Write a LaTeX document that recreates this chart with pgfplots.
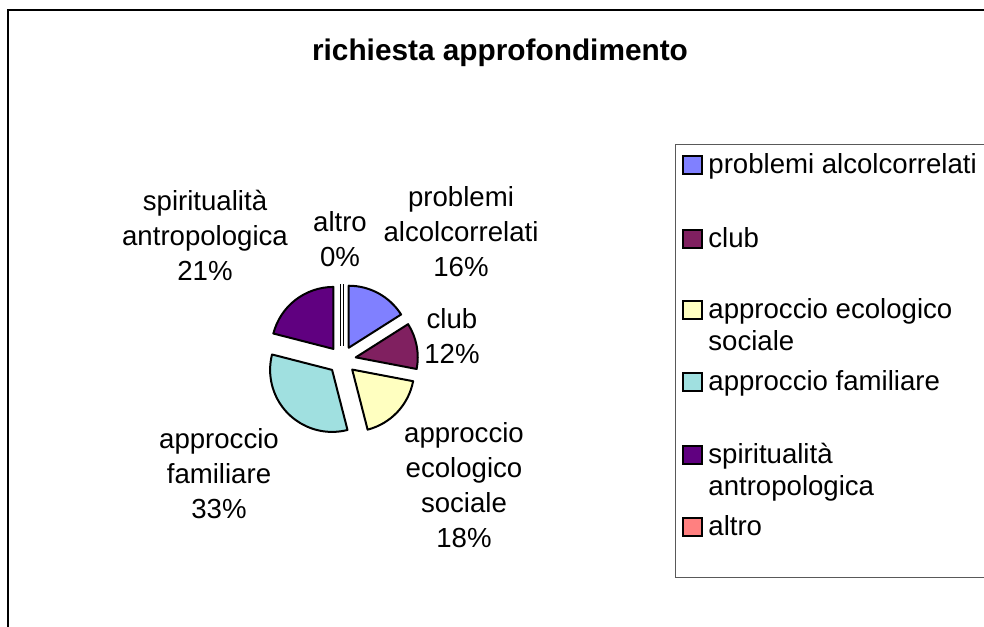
\documentclass[border=0pt]{standalone}
\usepackage{fontspec}
\setmainfont{Liberation Sans}
\usepackage{pgfplots}
\usepackage{pgfplotstable}
\pgfplotsset{compat=1.18}

\definecolor{sliceA}{HTML}{8080FF}
\definecolor{sliceB}{HTML}{802060}
\definecolor{sliceC}{HTML}{FFFFC0}
\definecolor{sliceD}{HTML}{A0E0E0}
\definecolor{sliceE}{HTML}{600080}
\definecolor{sliceF}{HTML}{FF8080}

% shares in percent, clockwise from 12 o'clock
\pgfplotstableread[col sep=comma]{
share,colour
16,sliceA
12,sliceB
18,sliceC
33,sliceD
21,sliceE
0,sliceF
}\piedata

\begin{document}
\begin{tikzpicture}
  \path[use as bounding box] (0,0) rectangle (492pt,313pt);
  \begin{axis}[scale only axis, width=492pt, height=313pt, hide axis,
      xmin=0, xmax=984, ymin=0, ymax=626, y dir=reverse, clip=false]
    % chart frame (right and bottom edge fall outside the picture)
    \draw[line width=0.7pt] (axis cs:8,700) -- (axis cs:8,10) -- (axis cs:1100,10);
    \coordinate (pc) at (axis cs:342,360);

    \node[font=\fontsize{14.9}{18}\selectfont\bfseries, anchor=base] at (axis cs:500,60) {richiesta approfondimento};

    % data labels (y = baseline of the last line)
    \begin{scope}[every node/.style={font=\fontsize{13.8}{17.5}\selectfont, align=center, anchor=base, inner sep=0pt}]
      \node at (axis cs:461,276) {problemi\\alcolcorrelati\\16\%};
      \node at (axis cs:452,363) {club\\12\%};
      \node at (axis cs:464,547) {approccio\\ecologico\\sociale\\18\%};
      \node at (axis cs:219,518) {approccio\\familiare\\33\%};
      \node at (axis cs:205,280) {spiritualità\\antropologica\\21\%};
      \node at (axis cs:340,266) {altro\\0\%};
    \end{scope}

    % legend
    \draw[black!65, line width=0.5pt] (axis cs:675,144) rectangle (axis cs:1100,577);
    \begin{scope}[every node/.style={font=\fontsize{13.8}{16}\selectfont, align=left, anchor=base west, inner sep=0pt}]
      \node at (axis cs:708,173) {problemi alcolcorrelati};
      \node at (axis cs:708,247) {club};
      \node at (axis cs:708,350) {approccio ecologico\\sociale};
      \node at (axis cs:708,390) {approccio familiare};
      \node at (axis cs:708,495) {spiritualità\\antropologica};
      \node at (axis cs:708,535) {altro};
    \end{scope}
    \begin{scope}[line width=0.8pt]
      \filldraw[fill=sliceA] (axis cs:683,174) rectangle (axis cs:702,156);
      \filldraw[fill=sliceB] (axis cs:683,248) rectangle (axis cs:702,230);
      \filldraw[fill=sliceC] (axis cs:683,319) rectangle (axis cs:702,301);
      \filldraw[fill=sliceD] (axis cs:683,391) rectangle (axis cs:702,373);
      \filldraw[fill=sliceE] (axis cs:683,464) rectangle (axis cs:702,446);
      \filldraw[fill=sliceF] (axis cs:683,536) rectangle (axis cs:702,518);
    \end{scope}
  \end{axis}

  % exploded pie slices, angles from the table
  \pgfplotstablegetrowsof{\piedata}
  \pgfmathtruncatemacro\lastrow{\pgfplotsretval-1}
  \xdef\cum{0}
  \foreach \i in {0,...,\lastrow}{
    \pgfplotstablegetelem{\i}{share}\of\piedata \let\val\pgfplotsretval
    \pgfplotstablegetelem{\i}{colour}\of\piedata \let\slicecol\pgfplotsretval
    \pgfmathsetmacro\sa{90-3.6*\cum}
    \pgfmathsetmacro\sb{90-3.6*(\cum+\val)}
    \pgfmathsetmacro\sm{(\sa+\sb)/2}
    \pgfmathparse{\val==0 ? 1 : 0}
    \ifnum\pgfmathresult=1
      \draw[shift={(pc)}, line width=0.5pt, double=white, double distance=0.7pt]
        (\sm:7pt) -- ++(\sa:31pt);
    \else
      \filldraw[shift={(pc)}, fill=\slicecol, line width=1pt, line join=round]
        (\sm:7pt) -- ++(\sa:31pt) arc[start angle=\sa, end angle=\sb, radius=31pt] -- cycle;
    \fi
    \pgfmathsetmacro\nc{\cum+\val}
    \xdef\cum{\nc}
  }
\end{tikzpicture}
\end{document}
